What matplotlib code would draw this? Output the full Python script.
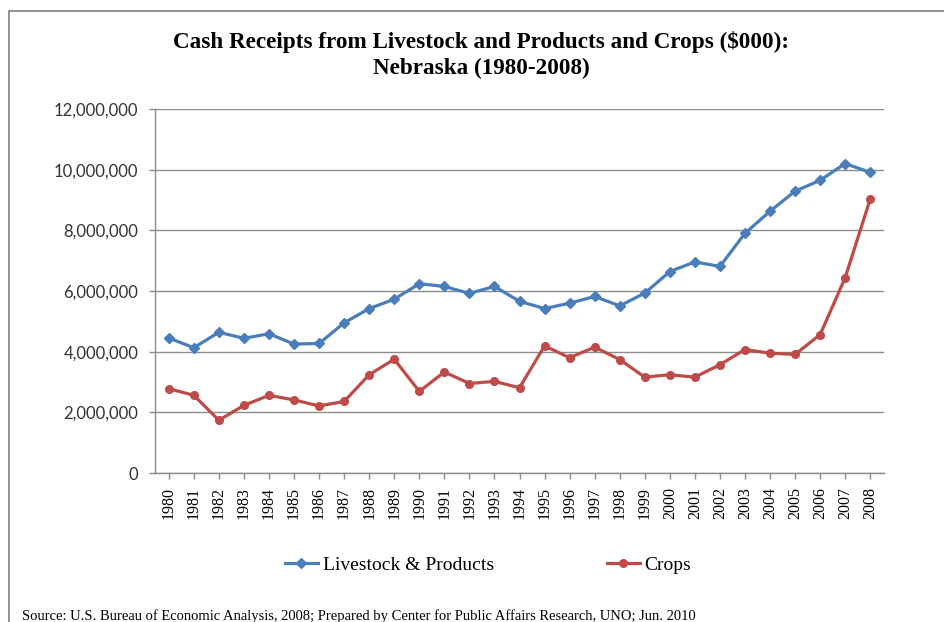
import matplotlib
matplotlib.use("Agg")
import matplotlib.pyplot as plt
from matplotlib.patches import Rectangle
from matplotlib.ticker import FuncFormatter

years = [str(y) for y in range(1980, 2009)]
livestock = [4.45, 4.13, 4.64, 4.44, 4.59, 4.25, 4.27, 4.95, 5.42, 5.73,
             6.24, 6.15, 5.92, 6.15, 5.66, 5.42, 5.60, 5.82, 5.51, 5.93,
             6.64, 6.96, 6.81, 7.90, 8.63, 9.29, 9.65, 10.20, 9.91]
crops = [2.78, 2.56, 1.74, 2.23, 2.56, 2.41, 2.21, 2.36, 3.24, 3.75,
         2.69, 3.33, 2.95, 3.02, 2.81, 4.19, 3.80, 4.15, 3.74, 3.16,
         3.24, 3.16, 3.57, 4.07, 3.95, 3.91, 4.56, 6.44, 9.03]
livestock = [v * 1e6 for v in livestock]
crops = [v * 1e6 for v in crops]

title = "Cash Receipts from Livestock and Products and Crops ($000):\nNebraska (1980-2008)"
source = "Source: U.S. Bureau of Economic Analysis, 2008; Prepared by Center for Public Affairs Research, UNO; Jun. 2010"

serif = "Liberation Serif"
sans = "Lato"
blue = "#4A7EBB"
red = "#BE4B48"
grid_c = "#8C8C8C"

fig = plt.figure(figsize=(9.45, 6.22), dpi=100)
W, H = 945, 622
ax = fig.add_axes([155 / W, 1 - 473 / H, (884 - 155) / W, (473 - 109) / H])

x = list(range(len(years)))
l1, = ax.plot(x, livestock, color=blue, lw=2.3, marker="D", ms=5.5,
              label="Livestock & Products")
l2, = ax.plot(x, crops, color=red, lw=2.3, marker="o", ms=5.5, label="Crops")

ax.set_xlim(-0.55, len(years) - 0.45)
ax.set_ylim(0, 12e6)
ax.set_yticks([0, 2e6, 4e6, 6e6, 8e6, 10e6, 12e6])
ax.yaxis.set_major_formatter(FuncFormatter(lambda v, p: f"{int(v):,}"))
ax.set_xticks(x)
ax.set_xticklabels(years, rotation=90, fontfamily=serif, fontsize=11.5)
for lab in ax.get_yticklabels():
    lab.set_fontfamily(sans)
    lab.set_fontsize(12)
    lab.set_color("#333333")

ax.grid(axis="y", color=grid_c, lw=1)
ax.set_axisbelow(True)
for s in ["top", "right"]:
    ax.spines[s].set_visible(False)
for s in ["left", "bottom"]:
    ax.spines[s].set_color(grid_c)
    ax.spines[s].set_linewidth(1)
ax.tick_params(axis="both", color=grid_c, length=4, width=1)
ax.tick_params(axis="y", pad=8)
ax.tick_params(axis="x", pad=6)

fig.text(481 / W, 1 - 55 / H, title, ha="center", va="center",
         fontfamily=serif, fontweight="bold", fontsize=16.7, linespacing=1.35)

fig.legend(handles=[l1, l2], loc="center", bbox_to_anchor=(488 / W, 1 - 565 / H),
           ncol=2, frameon=False, prop={"family": serif, "size": 14},
           handlelength=1.7, handletextpad=0.25, columnspacing=5.8)

fig.text(22 / W, 1 - 616 / H, source, ha="left", va="center",
         fontfamily=serif, fontsize=10.5)

fig.patches.append(Rectangle((9 / W, -0.1), 1.2, 1.1 - 11 / H, transform=fig.transFigure,
                             fill=False, edgecolor="#808080", lw=1.2))

fig.savefig("out.png", dpi=100)
